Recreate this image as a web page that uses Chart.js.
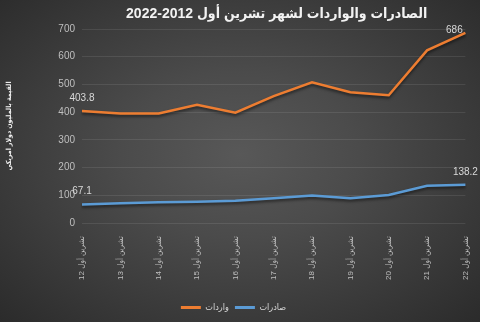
<!DOCTYPE html>
<html lang="ar">
<head>
<meta charset="utf-8">
<script src="https://cdn.jsdelivr.net/npm/chart.js@4/dist/chart.umd.min.js"></script>
<style>
  html, body { margin: 0; padding: 0; }
  body {
    width: 480px; height: 322px; overflow: hidden;
    background: radial-gradient(ellipse farthest-corner at 50% 48%, #585858 0%, #4b4b4b 35%, #2b2b2b 100%);
  }
  #wrap { position: relative; width: 480px; height: 322px; }
</style>
</head>
<body>
<div id="wrap"><canvas id="chart"></canvas></div>
<script>
  const years = ['12', '13', '14', '15', '16', '17', '18', '19', '20', '21', '22'];
  const monthName = 'تشرين أول';
  const imports = [403.8, 395, 395, 427, 398, 458, 508, 472, 461, 623, 686];
  const exports = [67.1, 71, 75, 77, 80, 89, 99, 89, 101, 134, 138.2];
  const importsLabel = 'واردات';
  const exportsLabel = 'صادرات';
  const chartTitle = 'الصادرات والواردات لشهر تشرين أول 2012-2022';
  const yTitle = 'القيمة بالمليون دولار امريكي';

  const FONT = "'Liberation Sans', 'DejaVu Sans Condensed', 'DejaVu Sans', sans-serif";
  const ORANGE = '#ED7D31';
  const BLUE = '#5B9BD5';

  // arabic text: draw everything right-to-left
  const rtlPlugin = {
    id: 'rtlText',
    beforeLayout(chart) { chart.ctx.direction = 'rtl'; },
    beforeDraw(chart) { chart.ctx.direction = 'rtl'; }
  };

  // title drawn over the plot centre, like the Excel original
  const titlePlugin = {
    id: 'centerTitle',
    afterDraw(chart) {
      const ctx = chart.ctx;
      const area = chart.chartArea;
      ctx.save();
      ctx.direction = 'rtl';
      ctx.font = 'bold 14px ' + FONT;
      ctx.fillStyle = '#f2f2f2';
      ctx.textAlign = 'center';
      ctx.textBaseline = 'middle';
      ctx.fillText(chartTitle, (area.left + area.right) / 2 + 3, 14);
      ctx.restore();
    }
  };

  // soft shadow under the lines
  const shadowPlugin = {
    id: 'lineShadow',
    beforeDatasetDraw(chart) {
      const ctx = chart.ctx;
      ctx.save();
      ctx.shadowColor = 'rgba(0,0,0,0.55)';
      ctx.shadowBlur = 3;
      ctx.shadowOffsetY = 2;
    },
    afterDatasetDraw(chart) {
      chart.ctx.restore();
    }
  };

  // value labels on first and last points
  const valueLabels = {
    id: 'valueLabels',
    afterDatasetsDraw(chart) {
      const ctx = chart.ctx;
      const spots = [
        { ds: 0, i: 0, dx: 0, dy: -13 },
        { ds: 0, i: 10, dx: -11, dy: -3 },
        { ds: 1, i: 0, dx: 0, dy: -13 },
        { ds: 1, i: 10, dx: 0, dy: -12 }
      ];
      ctx.save();
      ctx.font = '10px ' + FONT;
      ctx.fillStyle = '#d9d9d9';
      ctx.textAlign = 'center';
      ctx.textBaseline = 'middle';
      spots.forEach(s => {
        const pt = chart.getDatasetMeta(s.ds).data[s.i];
        const v = chart.data.datasets[s.ds].data[s.i];
        ctx.fillText(String(v), pt.x + s.dx, pt.y + s.dy);
      });
      ctx.restore();
    }
  };

  const ctx = document.getElementById('chart').getContext('2d');
  new Chart(ctx, {
    type: 'line',
    data: {
      labels: years.map(y => monthName + ' ' + y),
      datasets: [
        {
          label: importsLabel,
          data: imports,
          borderColor: ORANGE,
          backgroundColor: ORANGE,
          borderWidth: 2.5,
          pointRadius: 0,
          tension: 0
        },
        {
          label: exportsLabel,
          data: exports,
          borderColor: BLUE,
          backgroundColor: BLUE,
          borderWidth: 2.5,
          pointRadius: 0,
          tension: 0
        }
      ]
    },
    options: {
      responsive: true,
      maintainAspectRatio: false,
      animation: false,
      layout: { padding: { left: 0, right: 13, top: 29, bottom: 0 } },
      plugins: {
        title: { display: false },
        tooltip: { enabled: false },
        legend: {
          position: 'bottom',
          labels: {
            color: '#d9d9d9',
            font: { family: FONT, size: 9 },
            boxWidth: 20,
            boxHeight: 3,
            padding: 6,
            generateLabels(chart) {
              return chart.data.datasets.map((d, i) => ({
                text: d.label,
                fillStyle: d.borderColor,
                strokeStyle: d.borderColor,
                lineWidth: 0,
                fontColor: '#d9d9d9',
                datasetIndex: i
              }));
            }
          }
        }
      },
      scales: {
        x: {
          grid: { display: false },
          border: { display: false },
          ticks: {
            color: '#bfbfbf',
            font: { family: FONT, size: 8 },
            minRotation: 90,
            maxRotation: 90,
            autoSkip: false,
            padding: 5
          },
          afterFit(scale) { scale.height = 74; }
        },
        y: {
          min: 0,
          max: 700,
          grid: { color: 'rgba(255,255,255,0.09)', drawTicks: false },
          border: { display: false },
          ticks: {
            stepSize: 100,
            color: '#bfbfbf',
            font: { family: FONT, size: 10 },
            padding: 7
          },
          title: {
            display: true,
            text: yTitle,
            color: '#f2f2f2',
            font: { family: FONT, size: 7, weight: 'bold' },
            padding: { top: 5, bottom: 0 }
          },
          afterFit(scale) { scale.width = 82; }
        }
      }
    },
    plugins: [rtlPlugin, titlePlugin, shadowPlugin, valueLabels]
  });
</script>
</body>
</html>
